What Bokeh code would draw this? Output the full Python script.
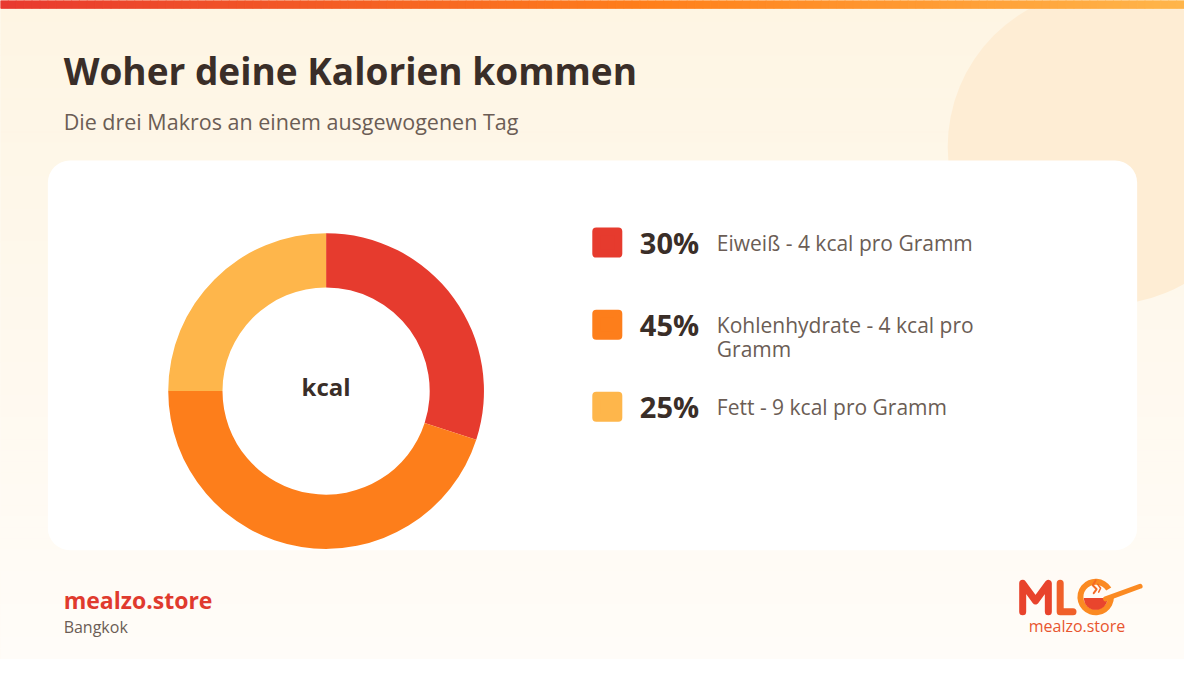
import textwrap
import numpy as np
from bokeh.plotting import figure
from bokeh.models import Range1d, BoxAnnotation
from bokeh.core.properties import value
from bokeh.embed import file_html
from bokeh.resources import INLINE

# ---------------- data ----------------
title = "Woher deine Kalorien kommen"
subtitle = "Die drei Makros an einem ausgewogenen Tag"
macros = ["Eiweiß", "Kohlenhydrate", "Fett"]
shares = [30, 45, 25]
kcal_per_gram = [4, 4, 9]
colors = ["#e63b2e", "#fd7e1b", "#feb64b"]
center_label = "kcal"
brand = "mealzo.store"
city = "Bangkok"

# ---------------- layout ----------------
W, H = 1200, 675
FONT = "Open Sans"
DARK = "#3a2e28"
GREY = "#6b5d55"


def Y(y):
    return H - y


def lerp_hex(c1, c2, t):
    a = np.array([int(c1[i:i + 2], 16) for i in (1, 3, 5)], float)
    b = np.array([int(c2[i:i + 2], 16) for i in (1, 3, 5)], float)
    c = a + (b - a) * t
    return "#%02x%02x%02x" % tuple(int(round(v)) for v in c)


def txt(x, y, s, size, color, bold=False, align="left"):
    p.text(x=[x], y=[Y(y)], text=[s], text_font=value(FONT), text_font_size=size,
           text_font_style="bold" if bold else "normal", text_color=color,
           text_align=align, text_baseline="middle")


p = figure(width=1184, height=659, x_range=Range1d(0, W), y_range=Range1d(0, H),
           output_backend="svg", toolbar_location=None, min_border=0)
p.axis.visible = False
p.grid.visible = False
p.outline_line_color = None
p.background_fill_color = "#fff8ec"
p.border_fill_color = "#fff8ec"

# background vertical gradient
n = 60
ys = np.linspace(0, H, n + 1)
bg_cols = [lerp_hex("#fef5e3", "#fffcf8", i / (n - 1)) for i in range(n)]
r = p.quad(left=0, right=W, top=[Y(v) for v in ys[:-1]], bottom=[Y(v) for v in ys[1:]],
           fill_color=bg_cols, line_color=bg_cols, line_width=1)
r.level = "image"

# decorative circle
r = p.circle(x=1120, y=Y(150), radius=160, fill_color="#feedd4", line_color=None)
r.level = "image"

# top gradient bar
nb = 150
xs = np.linspace(0, W, nb + 1)
bar_cols = []
for i in range(nb):
    t = i / (nb - 1)
    if t < 0.55:
        bar_cols.append(lerp_hex("#e8392f", "#ff7f1a", t / 0.55))
    else:
        bar_cols.append(lerp_hex("#ff7f1a", "#ffb54a", (t - 0.55) / 0.45))
r = p.quad(left=xs[:-1], right=xs[1:], top=H, bottom=Y(8), fill_color=bar_cols,
           line_color=bar_cols, line_width=1)
r.level = "image"

# white card
card = BoxAnnotation(left=48, right=1152, top=Y(164), bottom=Y(563), fill_color="white",
                     fill_alpha=1, line_color=None, border_radius=22, level="underlay")
p.add_layout(card)

# titles
txt(64, 72, title, "37px", DARK, bold=True)
txt(64, 124, subtitle, "21.5px", GREY)

# donut
cx, cy = 330, Y(400)
cum = np.cumsum([0] + shares)
total = cum[-1]
starts = [np.pi / 2 - 2 * np.pi * c / total for c in cum[:-1]]
ends = [np.pi / 2 - 2 * np.pi * c / total for c in cum[1:]]
p.annular_wedge(x=cx, y=cy, inner_radius=105, outer_radius=160, start_angle=starts,
                end_angle=ends, direction="clock", fill_color=colors, line_color=None)
txt(cx, 395, center_label, "24px", DARK, bold=True, align="center")

# legend
row0, step = 248, 84
for i, (m, s, k, c) in enumerate(zip(macros, shares, kcal_per_gram, colors)):
    yc = row0 + i * step
    p.scatter(x=[615], y=[Y(yc)], marker="square", size=22, fill_color=c, line_color=c,
              line_width=8, line_join="round")
    txt(648, yc, f"{s}%", "29px", DARK, bold=True)
    label = f"{m} - {k} kcal pro Gramm"
    for j, line in enumerate(textwrap.wrap(label, 26)):
        txt(726, yc + j * 25, line, "21px", GREY)

# footer
txt(64, 614, brand, "23px", "#e03a2e", bold=True)
txt(64, 642, city, "16px", GREY)

# logo (decoration)
p.line(x=[1036, 1036, 1049, 1062, 1062], y=[Y(626), Y(597), Y(615), Y(597), Y(626)],
       line_width=7, line_color="#e8432c", line_join="round", line_cap="round")
p.line(x=[1074, 1074, 1087], y=[Y(597), Y(626), Y(626)], line_width=7,
       line_color="#f0602a", line_join="round", line_cap="round")
p.annular_wedge(x=1110, y=Y(611), inner_radius=12.5, outer_radius=18.5, start_angle=0.55,
                end_angle=0.0, direction="anticlock", fill_color="#fb8a22", line_color=None)
p.wedge(x=1110, y=Y(612), radius=12, start_angle=np.pi, end_angle=2 * np.pi,
        fill_color="#e9452d", line_color=None)
p.line(x=[1120, 1155], y=[Y(613), Y(600)], line_width=5, line_color="#fb8a22", line_cap="round")
p.line(x=[1108, 1111, 1107, 1110], y=[Y(607), Y(603), Y(599), Y(594)], line_width=2,
       line_color="#f46a24", line_cap="round")
p.line(x=[1113, 1115, 1112], y=[Y(606), Y(602), Y(598)], line_width=1.5,
       line_color="#f46a24", line_cap="round")
txt(1091, 641, brand, "16px", "#e8552f", align="center")

open("out.html", "w").write(file_html(p, INLINE))
